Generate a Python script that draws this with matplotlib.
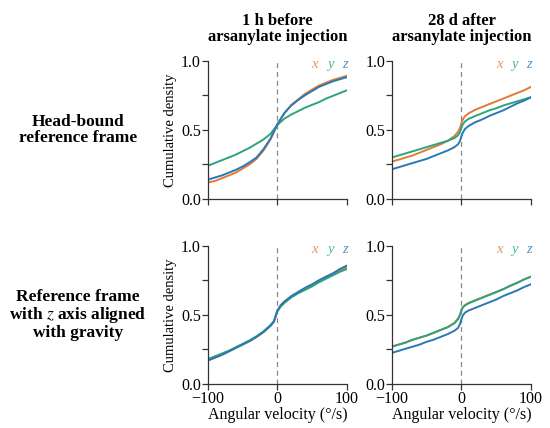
import matplotlib
matplotlib.use("Agg")
import matplotlib.pyplot as plt

plt.rcParams['font.family'] = ['Liberation Serif', 'DejaVu Serif']
plt.rcParams['mathtext.fontset'] = 'stix'

col_titles = ['1 h before\narsanylate injection', '28 d after\narsanylate injection']
row_titles = ['Head-bound\nreference frame', 'Reference frame\nwith $z$ axis aligned\nwith gravity']
axis_names = ['x', 'y', 'z']
colors = ['#e07b39', '#2ca47c', '#2a78b5']

# angular velocity (deg/s) sample points
v_tl = [-100, -90, -80, -70, -60, -50, -40, -30, -20, -10, 0,
        10, 20, 30, 40, 50, 60, 70, 80, 90, 100]
tl_x = [0.12, 0.13, 0.15, 0.17, 0.19, 0.22, 0.25, 0.29, 0.35, 0.43, 0.54,
        0.62, 0.68, 0.72, 0.76, 0.79, 0.82, 0.84, 0.86, 0.875, 0.89]
tl_y = [0.24, 0.26, 0.28, 0.30, 0.32, 0.345, 0.37, 0.40, 0.43, 0.47, 0.535,
        0.58, 0.61, 0.635, 0.66, 0.68, 0.70, 0.725, 0.745, 0.765, 0.785]
tl_z = [0.14, 0.155, 0.17, 0.19, 0.21, 0.235, 0.265, 0.30, 0.36, 0.435, 0.54,
        0.62, 0.675, 0.715, 0.75, 0.78, 0.81, 0.83, 0.85, 0.865, 0.88]

v_r = [-100, -90, -80, -70, -60, -50, -40, -30, -20, -10, -5, -2, 0,
       2, 5, 10, 20, 30, 40, 50, 60, 70, 80, 90, 100]
tr_x = [0.27, 0.285, 0.30, 0.315, 0.335, 0.355, 0.375, 0.395, 0.42, 0.455, 0.485, 0.515, 0.55,
        0.575, 0.598, 0.618, 0.645, 0.665, 0.685, 0.705, 0.725, 0.745, 0.765, 0.785, 0.81]
tr_y = [0.30, 0.315, 0.33, 0.345, 0.36, 0.375, 0.39, 0.405, 0.42, 0.44, 0.46, 0.485, 0.515,
        0.54, 0.56, 0.578, 0.60, 0.62, 0.64, 0.655, 0.675, 0.69, 0.705, 0.72, 0.735]
tr_z = [0.215, 0.23, 0.245, 0.26, 0.275, 0.29, 0.31, 0.33, 0.35, 0.375, 0.395, 0.42, 0.455,
        0.48, 0.505, 0.527, 0.555, 0.575, 0.60, 0.62, 0.64, 0.665, 0.69, 0.71, 0.735]

v_bl = [-100, -90, -80, -70, -60, -50, -40, -30, -20, -10, -5, 0,
        5, 10, 20, 30, 40, 50, 60, 70, 80, 90, 100]
bl_x = [0.17, 0.19, 0.21, 0.235, 0.26, 0.285, 0.31, 0.34, 0.375, 0.42, 0.45, 0.53,
        0.57, 0.595, 0.63, 0.66, 0.69, 0.715, 0.745, 0.77, 0.795, 0.82, 0.845]
bl_y = [0.18, 0.20, 0.22, 0.24, 0.265, 0.29, 0.315, 0.345, 0.38, 0.425, 0.455, 0.525,
        0.56, 0.585, 0.625, 0.655, 0.68, 0.705, 0.735, 0.76, 0.785, 0.81, 0.83]
bl_z = [0.17, 0.19, 0.21, 0.235, 0.26, 0.285, 0.31, 0.34, 0.375, 0.42, 0.45, 0.53,
        0.57, 0.595, 0.635, 0.665, 0.695, 0.72, 0.75, 0.775, 0.80, 0.83, 0.855]

br_x = [0.27, 0.285, 0.30, 0.32, 0.335, 0.35, 0.37, 0.39, 0.41, 0.44, 0.47, 0.50, 0.535,
        0.555, 0.57, 0.585, 0.605, 0.625, 0.645, 0.665, 0.685, 0.71, 0.73, 0.755, 0.775]
br_y = [0.27, 0.285, 0.30, 0.32, 0.335, 0.35, 0.37, 0.39, 0.41, 0.44, 0.47, 0.50, 0.533,
        0.553, 0.567, 0.582, 0.603, 0.623, 0.643, 0.663, 0.684, 0.708, 0.73, 0.755, 0.775]
br_z = [0.225, 0.24, 0.255, 0.27, 0.285, 0.305, 0.32, 0.34, 0.36, 0.385, 0.405, 0.435, 0.47,
        0.495, 0.515, 0.53, 0.55, 0.57, 0.59, 0.61, 0.635, 0.655, 0.675, 0.70, 0.72]

panels = [
    [(v_tl, [tl_x, tl_y, tl_z]), (v_r, [tr_x, tr_y, tr_z])],
    [(v_bl, [bl_x, bl_y, bl_z]), (v_r, [br_x, br_y, br_z])],
]

fig = plt.figure(figsize=(5.5, 4.28), dpi=100)
lefts = [0.378, 0.7127]
bottoms = [0.535, 0.1028]
w, h = 0.2527, 0.3236

for r in range(2):
    for c in range(2):
        ax = fig.add_axes([lefts[c], bottoms[r], w, h])
        v, series = panels[r][c]
        ax.axvline(0, color='#888888', lw=0.9, ls=(0, (4, 3)), zorder=1)
        for s, col in zip(series, colors):
            ax.plot(v, s, color=col, lw=1.4, zorder=2, solid_joinstyle='round')
        ax.set_xlim(-100, 100)
        ax.set_ylim(0, 1)
        ax.set_xticks([-100, 0, 100])
        ax.set_yticks([0, 0.25, 0.5, 0.75, 1.0])
        ax.set_yticklabels(['0.0', '', '0.5', '', '1.0'])
        for side in ['top', 'right']:
            ax.spines[side].set_visible(False)
        for side in ['left', 'bottom']:
            ax.spines[side].set_color('#333333')
            ax.spines[side].set_linewidth(0.9)
        ax.tick_params(direction='out', length=4, width=0.9, color='#333333',
                       labelsize=11.5, pad=1)
        if r == 0:
            ax.set_xticklabels([])
            ax.set_title(col_titles[c], fontsize=12, fontweight='bold', pad=14,
                         linespacing=1.0)
        else:
            ax.set_xticklabels(['\u2212100', '0', '100'])
            ax.set_xlabel('Angular velocity (°/s)', fontsize=11.5, labelpad=0)
        if c == 0:
            ax.set_ylabel('Cumulative density', fontsize=10.5, labelpad=3)
            fig.text(0.142, bottoms[r] + h / 2, row_titles[r], ha='center', va='center',
                     fontsize=12.5, fontweight='bold', linespacing=1.0)
        for name, col, xp in zip(axis_names, colors, [0.77, 0.88, 0.985]):
            ax.text(xp, 0.97, name, transform=ax.transAxes, color=col, alpha=0.8,
                    fontsize=10.5, style='italic', ha='center', va='center')

fig.savefig('out.png', dpi=100)
